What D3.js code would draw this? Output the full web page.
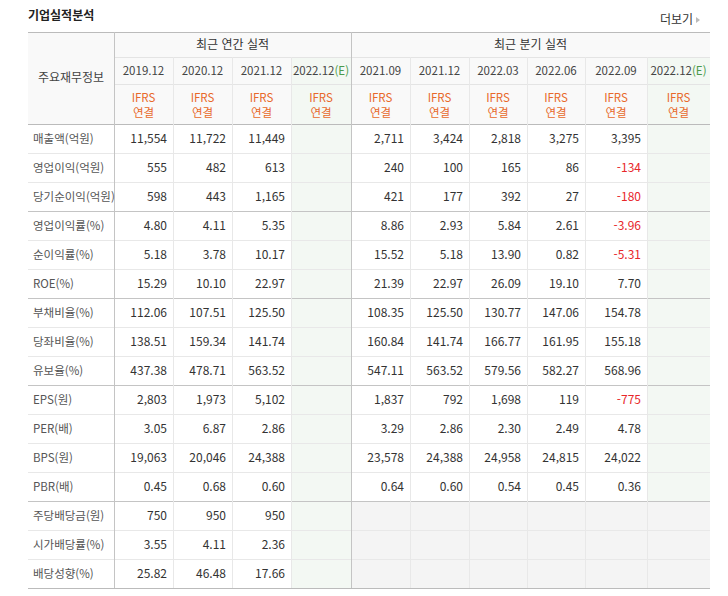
<!DOCTYPE html>
<html lang="ko">
<head>
<meta charset="UTF-8" />
<script src="https://d3js.org/d3.v7.min.js"></script>
<style>
  body { margin: 0; background: #fff; font-family: "Noto Sans CJK KR", "Noto Sans", sans-serif; }
  text { font-size: 12px; }
</style>
</head>
<body>
<script>
var width = 728, height = 596;

var annualPeriods = ["2019.12", "2020.12", "2021.12", "2022.12"];
var quarterPeriods = ["2021.09", "2021.12", "2022.03", "2022.06", "2022.09", "2022.12"];
var rowLabels = ["매출액(억원)", "영업이익(억원)", "당기순이익(억원)", "영업이익률(%)", "순이익률(%)", "ROE(%)",
  "부채비율(%)", "당좌비율(%)", "유보율(%)", "EPS(원)", "PER(배)", "BPS(원)", "PBR(배)",
  "주당배당금(원)", "시가배당률(%)", "배당성향(%)"];
// annual: 2019.12, 2020.12, 2021.12, 2022.12(E)
var annualValues = [
  ["11,554", "11,722", "11,449", ""],
  ["555", "482", "613", ""],
  ["598", "443", "1,165", ""],
  ["4.80", "4.11", "5.35", ""],
  ["5.18", "3.78", "10.17", ""],
  ["15.29", "10.10", "22.97", ""],
  ["112.06", "107.51", "125.50", ""],
  ["138.51", "159.34", "141.74", ""],
  ["437.38", "478.71", "563.52", ""],
  ["2,803", "1,973", "5,102", ""],
  ["3.05", "6.87", "2.86", ""],
  ["19,063", "20,046", "24,388", ""],
  ["0.45", "0.68", "0.60", ""],
  ["750", "950", "950", ""],
  ["3.55", "4.11", "2.36", ""],
  ["25.82", "46.48", "17.66", ""]
];
var quarterValues = [
  ["2,711", "3,424", "2,818", "3,275", "3,395", ""],
  ["240", "100", "165", "86", "-134", ""],
  ["421", "177", "392", "27", "-180", ""],
  ["8.86", "2.93", "5.84", "2.61", "-3.96", ""],
  ["15.52", "5.18", "13.90", "0.82", "-5.31", ""],
  ["21.39", "22.97", "26.09", "19.10", "7.70", ""],
  ["108.35", "125.50", "130.77", "147.06", "154.78", ""],
  ["160.84", "141.74", "166.77", "161.95", "155.18", ""],
  ["547.11", "563.52", "579.56", "582.27", "568.96", ""],
  ["1,837", "792", "1,698", "119", "-775", ""],
  ["3.29", "2.86", "2.30", "2.49", "4.78", ""],
  ["23,578", "24,388", "24,958", "24,815", "24,022", ""],
  ["0.64", "0.60", "0.54", "0.45", "0.36", ""],
  null, null, null
];
var groupBreaks = [3, 6, 9, 13]; // darker line above these rows

var colEdges = [28, 114, 173, 232, 291, 351, 410, 469, 527, 585, 647, 710];
var tableTop = 32, h1 = 57, h2 = 84, bodyTop = 124, rowH = 29;
var left = colEdges[0], right = colEdges[colEdges.length - 1];

var y = d3.scaleBand().domain(d3.range(rowLabels.length)).range([bodyTop, bodyTop + rowH * rowLabels.length]);
var bottom = y.range()[1];

var svg = d3.select("body").append("svg").attr("width", width).attr("height", height);

svg.append("text").attr("x", 28).attr("y", 20).attr("fill", "#222").style("font-weight", "bold").text("기업실적분석");
svg.append("text").attr("x", 693).attr("y", 24).attr("text-anchor", "end").attr("fill", "#333").text("더보기");
svg.append("path").attr("d", "M696,17 l4,3 l-4,3 z").attr("fill", "#bbb");

// backgrounds
svg.append("rect").attr("x", left).attr("y", tableTop).attr("width", right - left).attr("height", bodyTop - tableTop).attr("fill", "#f9f9f9");
[4, 10].forEach(function (c) {
  svg.append("rect").attr("x", colEdges[c]).attr("y", h1).attr("width", colEdges[c + 1] - colEdges[c])
    .attr("height", bottom - h1).attr("fill", "#f3f8f3");
});
rowLabels.forEach(function (r, i) {
  if (quarterValues[i] === null) {
    svg.append("rect").attr("x", colEdges[5]).attr("y", y(i)).attr("width", right - colEdges[5])
      .attr("height", rowH).attr("fill", "#f4f4f4");
  }
});

// horizontal lines
var lineH = function (yy, x1, x2, c) {
  svg.append("line").attr("x1", x1).attr("x2", x2).attr("y1", yy + 0.5).attr("y2", yy + 0.5).attr("stroke", c);
};
lineH(tableTop, left, right, "#bbb");
lineH(h1, colEdges[1], right, "#e4e4e4");
lineH(h2, colEdges[1], right, "#e4e4e4");
lineH(bodyTop, left, right, "#bbb");
d3.range(1, rowLabels.length).forEach(function (i) {
  lineH(y(i), left, right, groupBreaks.indexOf(i) >= 0 ? "#c4c4c4" : "#e8e8e8");
});
lineH(bottom, left, right, "#bbb");

// vertical lines
colEdges.slice(1, -1).forEach(function (x, k) {
  var major = (k === 0 || k === 4);
  svg.append("line").attr("x1", x + 0.5).attr("x2", x + 0.5)
    .attr("y1", major ? tableTop : h1).attr("y2", bottom)
    .attr("stroke", major ? "#c4c4c4" : "#e8e8e8");
});

// headers
var mid = function (a, b) { return (a + b) / 2; };
svg.append("text").attr("x", mid(colEdges[0], colEdges[1])).attr("y", 82).attr("text-anchor", "middle").attr("fill", "#444").text("주요재무정보");
svg.append("text").attr("x", mid(colEdges[1], colEdges[5])).attr("y", 49).attr("text-anchor", "middle").attr("fill", "#333").text("최근 연간 실적");
svg.append("text").attr("x", mid(colEdges[5], right)).attr("y", 49).attr("text-anchor", "middle").attr("fill", "#333").text("최근 분기 실적");

var periods = annualPeriods.concat(quarterPeriods);
periods.forEach(function (p, k) {
  var cx = mid(colEdges[k + 1], colEdges[k + 2]);
  var t = svg.append("text").attr("x", cx).attr("y", 75).attr("text-anchor", "middle").attr("fill", "#444").style("font-size", "11.5px");
  t.append("tspan").text(p);
  if (k === 3 || k === 9) t.append("tspan").attr("fill", "#4a9a4a").text("(E)");
  svg.append("text").attr("x", cx).attr("y", 102).attr("text-anchor", "middle").attr("fill", "#e8692a").style("font-size", "11.5px").text("IFRS");
  svg.append("text").attr("x", cx).attr("y", 117).attr("text-anchor", "middle").attr("fill", "#e8692a").style("font-size", "11.5px").text("연결");
});

// body
rowLabels.forEach(function (r, i) {
  var ty = y(i) + rowH / 2 + 4;
  svg.append("text").attr("x", 33).attr("y", ty).attr("fill", "#555").style("font-size", "11.5px").text(r);
  var vals = annualValues[i].concat(quarterValues[i] || ["", "", "", "", "", ""]);
  vals.forEach(function (v, k) {
    if (!v) return;
    svg.append("text").attr("x", colEdges[k + 2] - 6).attr("y", ty).attr("text-anchor", "end")
      .attr("fill", v[0] === "-" ? "#e8262a" : "#333").text(v);
  });
});
</script>
</body>
</html>
